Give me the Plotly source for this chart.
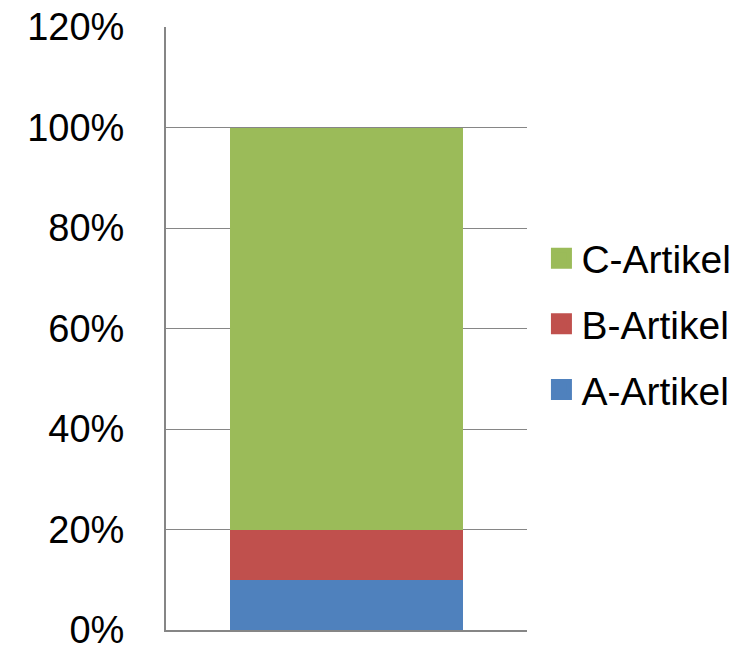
import plotly.graph_objects as go

categories = [""]
series_names = ["A-Artikel", "B-Artikel", "C-Artikel"]
series_values = [[0.10], [0.10], [0.80]]
series_colors = ["#4F81BD", "#C0504D", "#9BBB59"]
tick_vals = [0, 0.2, 0.4, 0.6, 0.8, 1.0, 1.2]
tick_text = ["0%", "20%", "40%", "60%", "80%", "100%", "120%"]

fig = go.Figure()
for name, vals, col in zip(series_names, series_values, series_colors):
    fig.add_trace(go.Bar(x=categories, y=vals, name=name, marker=dict(color=col, line=dict(width=0)),
                         showlegend=False))
# legend entries (top to bottom: C, B, A)
for name, col in reversed(list(zip(series_names, series_colors))):
    fig.add_trace(go.Scatter(x=[None], y=[None], mode="markers", name=name, legendgroup=name,
                             marker=dict(symbol="square", size=16, color=col,
                                         line=dict(color=col, width=5)),
                             showlegend=True, hoverinfo="skip"))

fig.update_layout(
    barmode="stack",
    bargap=0.355,
    width=751, height=648,
    margin=dict(l=166, r=224, t=27, b=18, autoexpand=False),
    paper_bgcolor="white", plot_bgcolor="white",
    font=dict(family="Liberation Sans", size=36, color="black"),
    showlegend=True,
    legend=dict(x=1.04, y=0.507, xanchor="left", yanchor="middle",
                traceorder="grouped", tracegroupgap=12, itemsizing="trace",
                font=dict(size=39), itemwidth=30, bgcolor="rgba(0,0,0,0)"),
    xaxis=dict(showticklabels=False, showline=True, linecolor="#868686", linewidth=2,
               showgrid=False, zeroline=False, automargin=False),
    yaxis=dict(range=[0, 1.2], tickvals=tick_vals, ticktext=tick_text,
               showgrid=True, gridcolor="#868686", gridwidth=1,
               showline=True, linecolor="#868686", linewidth=2, zeroline=False,
               ticks="", ticklabelstandoff=32, tickfont=dict(size=38),
               ticklabeloverflow="allow", automargin=False),
)
fig.write_html("out.html", config={"displayModeBar": False},
               post_script="document.body.style.margin='0';")
